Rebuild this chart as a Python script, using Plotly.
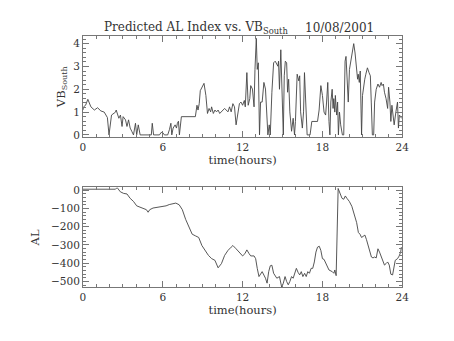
import plotly.graph_objects as go

# ---- data: VB_South (top panel) ----
vb_time = [0.0, 0.05, 0.2, 0.37, 0.6, 0.86, 1.1, 1.35, 1.6, 1.84, 1.96, 2.15, 2.45, 2.5,
           2.7, 2.82, 2.94, 3.02, 3.2, 3.31, 3.43, 3.55, 3.67, 3.8, 3.95, 4.04, 4.16, 4.3,
           5.14, 5.21, 5.31, 5.75, 5.88, 6.0, 6.12, 6.24, 6.37, 6.5, 6.61, 6.68, 6.78, 6.93,
           7.03, 7.1, 7.18, 7.25, 7.4, 8.45, 8.57, 8.65, 8.74, 8.82, 8.99, 9.1, 9.24, 9.36,
           9.48, 9.6, 9.67, 9.8, 9.92, 10.04, 10.16, 10.28, 10.65, 10.9, 11.02, 11.14, 11.27,
           11.39, 11.51, 11.63, 11.76, 11.88, 12.0, 12.13, 12.2, 12.32, 12.42, 12.54, 12.61,
           12.74, 12.86, 12.93, 13.03, 13.1, 13.18, 13.27, 13.35, 13.47, 13.6, 13.72, 13.84,
           13.9, 14.0, 14.08, 14.2, 14.33, 14.45, 14.57, 14.65, 14.7, 14.77, 14.87, 14.94,
           15.01, 15.06, 15.13, 15.21, 15.31, 15.38, 15.46, 15.55, 15.68, 15.8, 15.9, 15.97,
           16.1, 16.22, 16.29, 16.36, 16.49, 16.58, 16.65, 16.72, 16.85, 17.07, 17.2, 17.63,
           17.75, 17.88, 18.0, 18.12, 18.24, 18.31, 18.4, 18.49, 18.56, 18.63, 18.73, 18.8,
           18.85, 18.93, 18.97, 19.07, 19.14, 19.2, 19.28, 19.37, 19.5, 19.6, 19.7, 19.77,
           19.84, 19.94, 20.03, 20.16, 20.28, 20.35, 20.45, 20.57, 20.64, 20.69, 20.77,
           20.84, 20.94, 21.01, 21.11, 21.18, 21.26, 21.38, 21.5, 21.6, 21.67, 21.75, 21.85,
           21.92, 22.04, 22.17, 22.29, 22.41, 22.48, 22.58, 22.66, 22.78, 22.9, 22.97,
           23.07, 23.14, 23.22, 23.29, 23.39, 23.52, 23.64, 23.71, 23.78, 23.88, 23.93]
vb_value = [1.09, 1.23, 1.3, 1.56, 1.23, 1.09, 1.19, 1.05, 1.0, 0.76, 0.0, 0.87, 1.0, 1.09,
            0.73, 0.87, 0.37, 0.8, 0.66, 0.37, 0.66, 0.3, 0.16, 0.0, 0.51, 0.0, 0.44, 0.0,
            0.0, 0.51, 0.0, 0.0, 0.11, 0.1, 0.0, 0.01, 0.0, 0.23, 0.51, 0.0, 0.3, 0.44,
            0.3, 0.51, 0.6, 0.0, 0.8, 0.8, 1.3, 1.09, 1.37, 1.94, 2.16, 2.26, 1.73, 0.94,
            1.16, 1.01, 1.23, 0.94, 1.09, 1.01, 1.09, 0.94, 1.16, 1.01, 1.23, 1.01, 1.37,
            1.23, 0.44, 1.01, 1.37, 1.44, 1.3, 1.51, 1.23, 2.73, 1.3, 1.59, 2.16, 2.01,
            1.23, 2.87, 4.23, 2.87, 3.16, 0.0, 1.44, 1.44, 2.3, 2.01, 0.73, 0.0, 0.44, 0.0,
            1.87, 3.16, 3.23, 3.09, 3.01, 3.23, 2.0, 3.73, 2.16, 0.73, 0.0, 2.59, 3.23, 3.16,
            1.87, 2.44, 1.01, 0.16, 0.73, 0.0, 0.59, 2.66, 2.37, 2.59, 1.01, 0.3, 1.01,
            2.73, 1.44, 0.0, 0.0, 0.59, 0.59, 1.09, 2.16, 1.73, 1.0, 0.87, 1.44, 2.3, 0.59,
            0.0, 1.44, 2.0, 1.16, 1.59, 1.0, 1.73, 0.87, 1.44, 0.0, 1.0, 0.44, 0.0, 0.0, 3.23,
            3.44, 2.44, 1.44, 2.87, 3.3, 3.87, 4.0, 3.59, 2.87, 2.44, 2.66, 2.3, 2.8, 0.0,
            1.73, 2.3, 2.44, 2.66, 2.94, 2.73, 2.59, 1.44, 0.0, 0.0, 1.44, 2.0, 2.23, 2.09,
            2.3, 2.16, 2.23, 1.87, 1.59, 1.16, 2.09, 1.44, 0.59, 1.3, 1.01, 0.44, 1.01, 1.44,
            0.3, 0.87, 0.8, 0.73]

# ---- data: AL index (bottom panel) ----
al_time = [0.0, 2.45, 2.57, 2.81, 3.06, 3.31, 3.55, 3.8, 4.04, 4.29, 4.53, 4.77, 4.9, 5.02,
           5.27, 5.51, 5.76, 6.0, 6.25, 6.49, 6.74, 6.98, 7.23, 7.47, 7.72, 7.96, 8.21,
           8.45, 8.7, 8.94, 9.19, 9.43, 9.68, 9.92, 10.16, 10.41, 10.65, 10.9, 11.14,
           11.27, 11.51, 11.76, 12.0, 12.17, 12.32, 12.49, 12.61, 12.86, 12.98, 13.1,
           13.23, 13.47, 13.72, 13.84, 13.96, 14.08, 14.2, 14.33, 14.57, 14.77, 14.94,
           15.06, 15.19, 15.31, 15.43, 15.55, 15.68, 15.8, 15.92, 16.04, 16.17, 16.29,
           16.41, 16.53, 16.66, 16.78, 16.9, 17.02, 17.15, 17.27, 17.39, 17.51, 17.63,
           17.76, 17.88, 18.0, 18.12, 18.25, 18.49, 18.74, 18.86, 18.93, 19.03, 19.18,
           19.27, 19.47, 19.6, 19.72, 19.84, 20.02, 20.21, 20.39, 20.57, 20.7, 20.82,
           20.94, 21.06, 21.19, 21.31, 21.43, 21.55, 21.68, 21.8, 21.92, 22.04, 22.17,
           22.29, 22.41, 22.53, 22.66, 22.78, 22.9, 23.02, 23.14, 23.27, 23.34, 23.47,
           23.64, 23.76, 23.88, 23.93]
al_value = [5, 5, 14, -9, -18, -21, -45, -62, -86, -93, -98, -107, -121, -107, -98, -95,
            -93, -93, -86, -79, -75, -71, -80, -107, -160, -205, -241, -250, -259, -303,
            -330, -357, -375, -384, -425, -402, -357, -330, -312, -303, -321, -339, -360,
            -348, -327, -348, -360, -360, -375, -428, -473, -446, -482, -509, -446, -414,
            -411, -455, -482, -473, -532, -509, -473, -500, -518, -500, -473, -482, -455,
            -428, -450, -464, -446, -473, -455, -473, -446, -455, -428, -428, -393, -339,
            -312, -307, -330, -375, -379, -402, -437, -446, -455, -437, -468, 9, -9, -45,
            -50, -32, -45, -62, -89, -134, -178, -232, -241, -259, -250, -246, -271,
            -303, -321, -366, -371, -366, -371, -321, -339, -366, -384, -410, -402, -393,
            -410, -460, -464, -428, -384, -375, -361, -339, -312]

FONT = "DejaVu Serif"
LINE = "#444444"
AX = "#777777"
TXT = "#333333"

fig = go.Figure()
fig.add_trace(go.Scatter(x=vb_time, y=vb_value, mode="lines",
                         line=dict(color=LINE, width=0.9), xaxis="x", yaxis="y",
                         showlegend=False))
fig.add_trace(go.Scatter(x=al_time, y=al_value, mode="lines",
                         line=dict(color=LINE, width=0.9), xaxis="x2", yaxis="y2",
                         showlegend=False))

xcommon = dict(range=[0, 24], tickmode="array", tickvals=[0, 6, 12, 18, 24],
               ticks="inside", ticklen=6, tickcolor=AX, showline=True, linecolor=AX,
               linewidth=1, mirror="allticks", showgrid=False, zeroline=False,
               minor=dict(dtick=1, ticks="inside", ticklen=3, tickcolor=AX, showgrid=False),
               tickfont=dict(family=FONT, size=10.5, color=TXT),
               title=dict(text="time(hours)", font=dict(family=FONT, size=11.5, color=TXT),
                          standoff=2))
ycommon = dict(ticks="inside", ticklen=6, tickcolor=AX, showline=True, linecolor=AX,
               linewidth=1, mirror="allticks", showgrid=False, zeroline=False,
               tickfont=dict(family=FONT, size=10.5, color=TXT))

fig.update_layout(
    width=454, height=341, margin=dict(l=0, r=0, t=0, b=0),
    paper_bgcolor="white", plot_bgcolor="white",
    xaxis=dict(domain=[0.18, 0.8993], anchor="y", **xcommon),
    yaxis=dict(domain=[0.6012, 0.9032], anchor="x", range=[-0.1, 4.32], dtick=1,
               minor=dict(dtick=0.2, ticks="inside", ticklen=3, tickcolor=AX, showgrid=False),
               title=dict(text="VB<sub>South</sub>", font=dict(family=FONT, size=11.5, color=TXT),
                          standoff=5),
               **ycommon),
    xaxis2=dict(domain=[0.18, 0.8993], anchor="y2", **xcommon),
    yaxis2=dict(domain=[0.1516, 0.4507], anchor="x2", range=[-532, 14.5], dtick=100,
                minor=dict(dtick=20, ticks="inside", ticklen=3, tickcolor=AX, showgrid=False),
                title=dict(text="AL", font=dict(family=FONT, size=11.5, color=TXT),
                           standoff=8),
                **ycommon),
    annotations=[
        dict(text="Predicted AL Index vs. VB<sub>South</sub>", x=101 / 454, y=1 - 25 / 341,
             xref="paper", yref="paper", xanchor="left", yanchor="middle",
             showarrow=False, font=dict(family=FONT, size=12, color=TXT)),
        dict(text="10/08/2001", x=381 / 454, y=1 - 25 / 341,
             xref="paper", yref="paper", xanchor="right", yanchor="middle",
             showarrow=False, font=dict(family=FONT, size=12, color=TXT)),
    ],
)

fig.write_html("out.html")
